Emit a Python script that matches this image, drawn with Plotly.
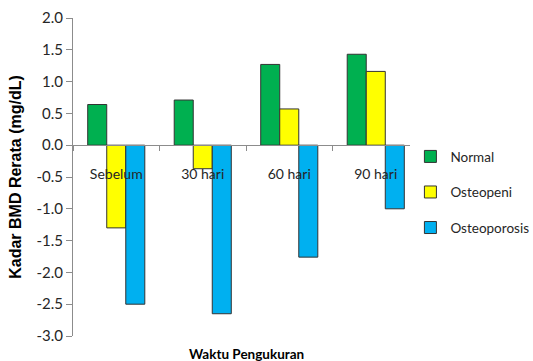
import plotly.graph_objects as go

# Mean BMD values per measurement time and group
categories = ["Sebelum", "30 hari", "60 hari", "90 hari"]
normal = [0.64, 0.71, 1.27, 1.43]
osteopeni = [-1.30, -0.37, 0.57, 1.16]
osteoporosis = [-2.50, -2.65, -1.76, -1.00]

series_names = ["Normal", "Osteopeni", "Osteoporosis"]
series_colors = ["#00B050", "#FFFF00", "#00B0F0"]
y_ticks = [2.0, 1.5, 1.0, 0.5, 0.0, -0.5, -1.0, -1.5, -2.0, -2.5, -3.0]

FONT = "Lato, Open Sans, sans-serif"

fig = go.Figure()
for name, vals, col in zip(series_names, [normal, osteopeni, osteoporosis], series_colors):
    fig.add_trace(go.Bar(
        x=categories, y=vals, name=name, legendgroup=name,
        marker=dict(color=col, line=dict(color="#333333", width=1)),
    ))

fig.update_layout(
    width=533, height=361,
    margin=dict(l=73, r=114, t=18, b=25, autoexpand=False),
    paper_bgcolor="white", plot_bgcolor="white",
    barmode="group", bargap=0.34, bargroupgap=0,
    font=dict(family=FONT, size=14, color="#262626"),
    showlegend=True,
    legend=dict(
        xref="container", yref="container",
        x=0.77, y=0.609, xanchor="left", yanchor="top",
        traceorder="grouped", tracegroupgap=15,
        font=dict(family=FONT, size=13.5, color="#262626"),
        itemwidth=30,
    ),
    xaxis=dict(
        anchor="free", position=0.6,
        showline=True, linecolor="#8c8c8c", linewidth=1,
        ticks="outside", tickson="boundaries", ticklen=5, tickcolor="#8c8c8c",
        ticklabelstandoff=16,
        showgrid=False, zeroline=False,
        tickfont=dict(family=FONT, size=14, color="#262626"),
    ),
    yaxis=dict(
        range=[-3.0, 2.0], tickvals=y_ticks,
        ticktext=[f"{v:.1f}" for v in y_ticks],
        showline=True, linecolor="#8c8c8c", linewidth=1,
        ticks="outside", ticklen=6, tickcolor="#8c8c8c",
        showgrid=False, zeroline=False,
        tickfont=dict(family=FONT, size=15, color="#262626"),
        title=dict(text="<b>Kadar BMD Rerata (mg/dL)</b>", standoff=10,
                   font=dict(family="Liberation Sans, Arial, sans-serif", size=16, color="#000000")),
    ),
    annotations=[dict(
        text="<b>Waktu Pengukuran</b>", xref="paper", yref="paper",
        x=0.5, y=0, yshift=-18, xanchor="center", yanchor="middle", showarrow=False,
        font=dict(family=FONT, size=13.5, color="#000000"),
    )],
)

fig.write_html("out.html")
